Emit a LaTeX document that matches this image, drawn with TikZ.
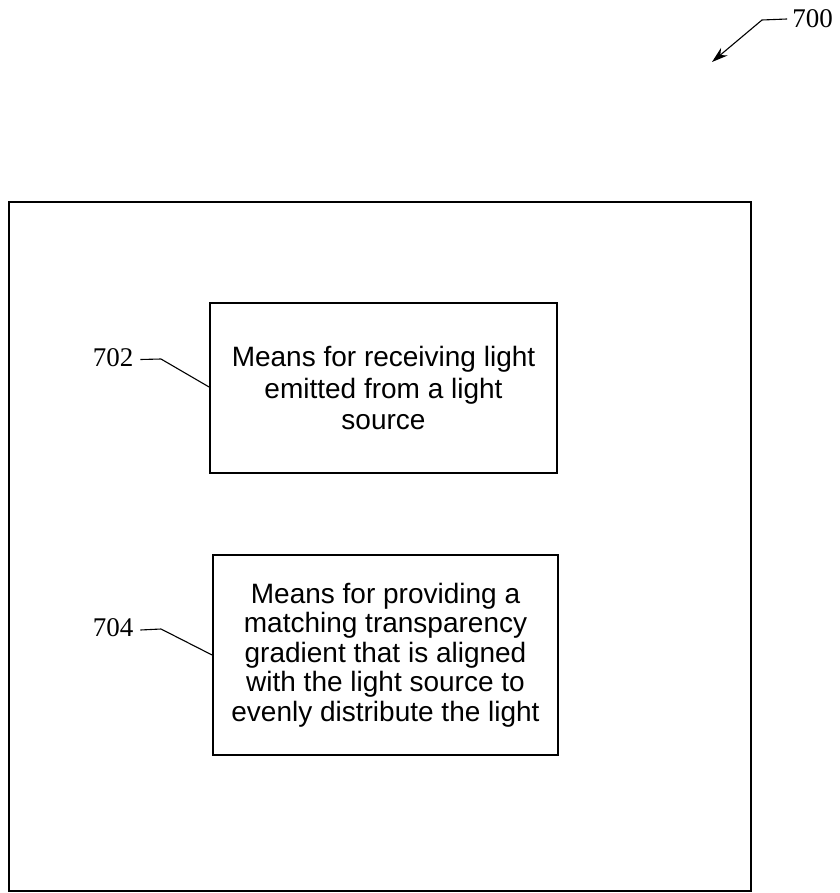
\documentclass[tikz,border=0pt]{standalone}
\usepackage{fontspec}
\setmainfont{Liberation Serif}
\newfontfamily\boxfont{Liberation Sans}
\usetikzlibrary{arrows.meta}
\begin{document}
\begin{tikzpicture}[x=1pt,y=-1pt,
  stepbox/.style={draw,line width=1.8pt,rectangle,align=center,inner sep=0pt},
  reflabel/.style={inner sep=0pt,font=\fontsize{27}{30}\selectfont},
  leader/.style={line width=1.1pt}]
\useasboundingbox (0,0) rectangle (839,893);
\node[draw,line width=2pt,rectangle,minimum width=742,minimum height=689,inner sep=0pt] (outer) at (380,546.5) {};
\node[stepbox,minimum width=347,minimum height=170,font=\boxfont\fontsize{28}{31.5}\selectfont] (b702) at (383.5,388)
  {Means for receiving light\\emitted from a light\\source};
\node[stepbox,minimum width=345,minimum height=200,font=\boxfont\fontsize{28}{29.5}\selectfont] (b704) at (385.5,655)
  {Means for providing a\\matching transparency\\gradient that is aligned\\with the light source to\\evenly distribute the light};
\node[reflabel] (l702) at (113,357.5) {702};
\node[reflabel] (l704) at (113,628) {704};
\node[reflabel] (l700) at (812.5,19) {700};
\coordinate (k702) at (161,359);
\coordinate (k704) at (161,629);
\coordinate (k700) at (762,20);
\coordinate (t700) at (712,62);
\draw[leader] ([xshift=7pt,yshift=-2pt]l702.east) -- (k702) -- (b702.west |- 0,387);
\draw[leader] ([xshift=7pt,yshift=-2pt]l704.east) -- (k704) -- (b704.west |- 0,655);
\draw[leader,-{Stealth[length=16pt,width=10pt]}] ([xshift=-5pt]l700.west) -- (k700) -- (t700);
\end{tikzpicture}
\end{document}
